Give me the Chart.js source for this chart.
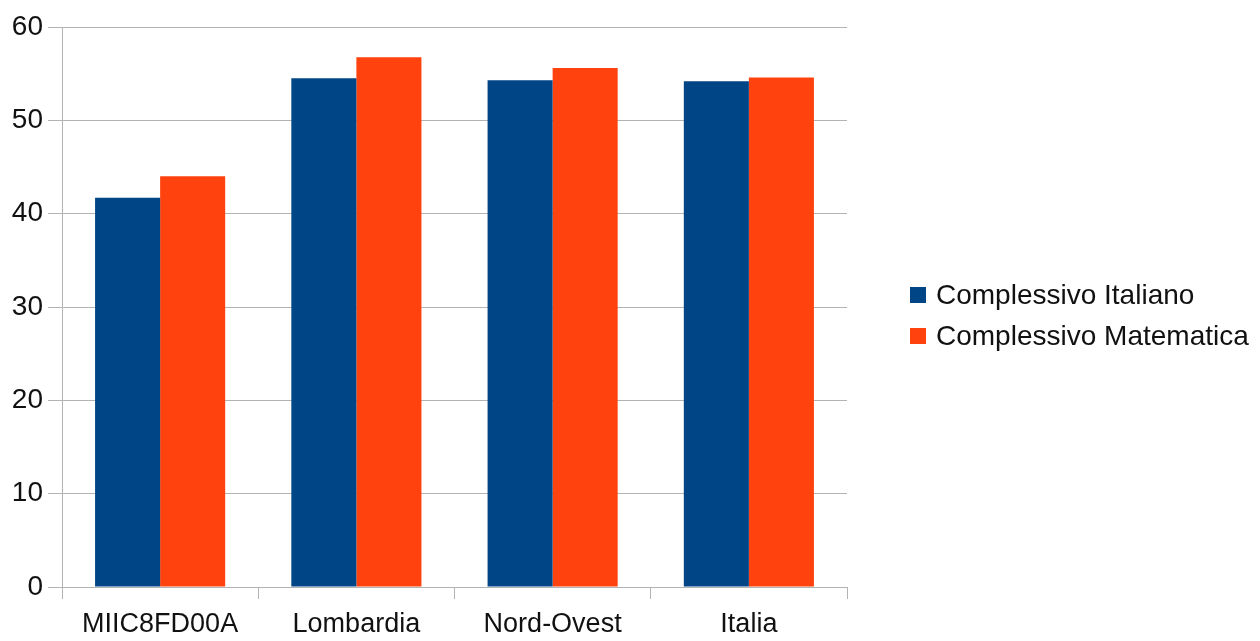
<!DOCTYPE html>
<html>
<head>
<meta charset="utf-8">
<script src="https://cdn.jsdelivr.net/npm/chart.js@4/dist/chart.umd.min.js"></script>
<style>
html,body{margin:0;padding:0;background:#fff;}
#wrap{width:1260px;height:641px;position:relative;}
</style>
</head>
<body>
<div id="wrap"><canvas id="c" width="1260" height="641"></canvas></div>
<script>
const categories = ["MIIC8FD00A", "Lombardia", "Nord-Ovest", "Italia"];
const seriesNames = ["Complessivo Italiano", "Complessivo Matematica"];
const italiano = [41.7, 54.5, 54.3, 54.2];
const matematica = [44.0, 56.75, 55.6, 54.6];
const yTicks = [0, 10, 20, 30, 40, 50, 60];
const colors = ["#004586", "#ff420e"];

const FONT = "'Liberation Sans', Arial, sans-serif";
const GRID = "#b3b3b3";

const legendPlugin = {
  id: 'sideLegend',
  afterDraw(chart) {
    const ctx = chart.ctx;
    ctx.save();
    ctx.font = "28px " + FONT;
    ctx.textBaseline = "middle";
    ctx.textAlign = "left";
    chart.data.datasets.forEach((ds, i) => {
      const cy = 295 + i * 41;
      ctx.fillStyle = ds.backgroundColor;
      ctx.fillRect(910, cy - 8, 16, 16);
      ctx.fillStyle = "#111";
      ctx.fillText(ds.label, 936, cy + 1);
    });
    ctx.restore();
  }
};

new Chart(document.getElementById('c'), {
  type: 'bar',
  data: {
    labels: categories,
    datasets: [
      { label: seriesNames[0], data: italiano, backgroundColor: colors[0] },
      { label: seriesNames[1], data: matematica, backgroundColor: colors[1] }
    ]
  },
  options: {
    responsive: false,
    animation: false,
    devicePixelRatio: 1,
    layout: { padding: { top: 27, right: 413, left: 0, bottom: 0 } },
    datasets: { bar: { categoryPercentage: 0.663, barPercentage: 1.0, borderWidth: 0 } },
    plugins: { legend: { display: false }, tooltip: { enabled: false } },
    scales: {
      x: {
        afterFit(s) { s.height = 54; },
        grid: {
          offset: true,
          drawOnChartArea: true,
          drawTicks: true,
          tickLength: 12,
          color: (c) => (c.index === categories.length ? GRID : 'rgba(0,0,0,0)'),
          tickColor: GRID,
          lineWidth: 1
        },
        border: { display: true, color: GRID },
        ticks: { color: "#111", font: { family: FONT, size: 27 }, padding: 9 }
      },
      y: {
        min: 0, max: 60,
        afterFit(s) { s.width = 62; },
        afterBuildTicks(s) { s.ticks = yTicks.map(v => ({ value: v })); },
        grid: { color: GRID, tickColor: GRID, tickLength: 14, lineWidth: 1 },
        border: { display: true, color: GRID },
        ticks: { color: "#111", font: { family: FONT, size: 28 }, padding: 5 }
      }
    }
  },
  plugins: [legendPlugin]
});
</script>
</body>
</html>
